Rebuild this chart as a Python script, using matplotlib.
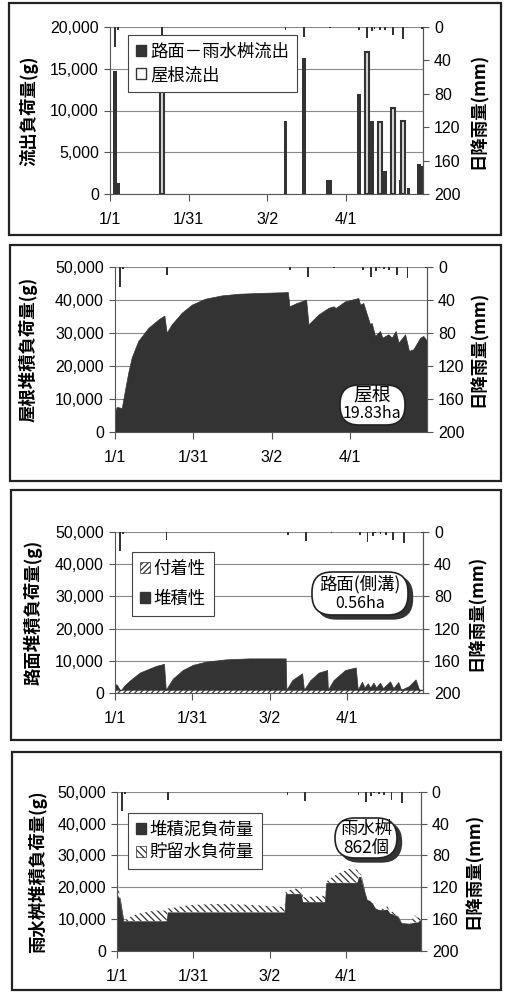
import matplotlib
matplotlib.use("Agg")
import matplotlib.pyplot as plt
from matplotlib.patches import Patch, Rectangle, FancyBboxPatch

plt.rcParams['font.family'] = ['Liberation Sans', 'Noto Sans CJK JP', 'DejaVu Sans']
plt.rcParams['hatch.linewidth'] = 0.9
DARK = '#333333'
plt.rcParams['hatch.color'] = DARK
GRID = '#8a8a8a'
JP = ['Noto Sans CJK JP', 'DejaVu Sans']

W, H = 506, 992

# days counted from 1/1
date_ticks = [0, 30, 60, 90]
date_labels = ['1/1', '1/31', '3/2', '4/1']

# daily rainfall (mm), rainy days only
rain_days = [2, 3, 20, 67, 74, 84, 95, 98, 100, 101, 103, 105, 108, 112, 119]
rain_mm = [24, 3, 10, 4, 12, 1, 4, 13, 5, 2, 3, 4, 10, 14, 2]

# outflow loads (g)
road_out_days = [2, 3, 67, 74, 83, 84, 95, 100, 105, 111, 114, 118, 119]
road_out_g = [14700, 1300, 8800, 16300, 1700, 1700, 12000, 8800, 2800, 1700, 700, 3600, 3300]
roof_out_days = [20, 98, 103, 108, 112]
roof_out_g = [15000, 17000, 8600, 10300, 8800]

# roof accumulated load (g)
roof_days = [0, 0.6, 2.6, 3.8, 5.1, 6.4, 8.9, 12.8, 16.6, 18.9, 19.8, 21.7, 25.5, 29.4,
             34.5, 40.9, 47.3, 53.6, 66.2, 66.8, 69.6, 73.2, 74.1, 77.9, 81.7, 83.7,
             84.5, 88.1, 93.2, 93.9, 95.1, 97.7, 98.3, 99.6, 101.5, 102.4, 104.7, 106.0,
             107.5, 108.6, 111.1, 112.6, 114.3, 116.9, 118.1, 119.5]
roof_load = [5500, 7500, 7200, 12500, 18000, 22500, 27500, 31500, 34000, 35200, 30000,
             32500, 36000, 38500, 40300, 41300, 41800, 42000, 42300, 38000, 39000, 40000,
             32500, 35500, 37500, 38000, 37500, 39500, 40500, 38500, 39000, 32500, 33000,
             29000, 30500, 28500, 29500, 28500, 30500, 27000, 29500, 24500, 25000, 28500,
             29000, 27500]

# road (gutter) accumulated load (g): adhesive layer + deposit
adhesive_days = [0, 119.5]
adhesive_load = [1100, 1100]
deposit_days = [0, 0.8, 1.8, 2.5, 3.5, 5.8, 9.6, 13.5, 16, 19, 19.7, 22.5, 26.3, 30.2,
                35.3, 43, 52, 66.2, 66.5, 68.8, 72.6, 73.3, 75.8, 79, 82.3, 82.6, 84.8,
                89.3, 93.4, 94.2, 95.8, 96.8, 98.1, 99, 100.3, 101.3, 102.8, 104, 106.7,
                108, 109.9, 111, 111.5, 114, 116.6, 118, 119.5]
deposit_load = [1800, 1500, 0, 0, 1200, 2900, 5300, 6600, 7400, 8000, 0, 3500, 6100, 7700,
                8700, 9400, 9700, 9700, 0, 3000, 5100, 0, 3000, 5300, 6100, 0, 3000,
                6100, 6900, 0, 2500, 700, 2000, 700, 2200, 700, 2200, 500, 2600,
                500, 2400, 0, 200, 1100, 3200, 0, 0]

# catch basin accumulated load (g): sludge + stored water
basin_days = [0, 1, 2.4, 5.6, 9.6, 14.8, 19.4, 19.8, 20.7, 27.9, 38.4, 50.2, 60.7, 65.9,
              66.3, 67.9, 72.5, 73.2, 81.7, 82.3, 84.3, 87.6, 91.5, 94.4, 95.2, 96.0,
              97.5, 98.3, 99.4, 100.7, 101.7, 103.3, 104.5, 106.4, 107.5, 108.5, 109.2,
              110.5, 111.8, 115.1, 117.1, 118.2, 119.5]
sludge_load = [17600, 16500, 9300, 9300, 9300, 9300, 9300, 12100, 12100, 12100, 12100,
               12100, 12100, 12100, 17900, 17900, 17900, 15300, 15300, 21400, 21400,
               21400, 21400, 21400, 23300, 23300, 18000, 16000, 15800, 14800, 13300,
               12800, 12800, 13000, 11700, 11500, 11200, 10800, 8700, 8500, 8900, 8900,
               9700]
water_load = [4700, 500, 0, 1600, 2600, 3300, 3300, 1200, 1200, 2200, 2600, 2400, 1900,
              1600, 800, 1200, 2000, 1500, 2000, 300, 1600, 3100, 4400, 4100, 1200, 700,
              0, 0, 300, 500, 1000, 200, 400, 1000, 300, 800, 500, 200, 0, 0, 2300,
              1500, 1000]

fig = plt.figure(figsize=(W / 100, H / 100), dpi=100)


def frame(x0, y0, x1, y1):
    fig.add_artist(Rectangle((x0 / W, 1 - y1 / H), (x1 - x0) / W, (y1 - y0) / H,
                             transform=fig.transFigure, fill=False, ec='#222222', lw=1.6))


def panel(box, ymax, ystep, ylabel, lab_left, lab_right):
    l, t, r, b = box
    ax = fig.add_axes([l / W, 1 - b / H, (r - l) / W, (b - t) / H])
    ax.set_xlim(0, 119.5)
    ax.set_ylim(0, ymax)
    ax.set_yticks(range(0, ymax + 1, ystep))
    ax.set_yticklabels([f'{v:,}' for v in range(0, ymax + 1, ystep)])
    ax.set_xticks(date_ticks)
    ax.set_xticklabels(date_labels)
    ax.yaxis.grid(True, color=GRID, lw=0.8)
    ax.set_axisbelow(True)
    ax.spines['top'].set_visible(False)
    for s in ['left', 'bottom', 'right']:
        ax.spines[s].set_color('#555555')
        ax.spines[s].set_linewidth(0.8)
    ax.tick_params(axis='y', length=4, width=0.8, color='#555555', labelsize=11.5, pad=4)
    ax.tick_params(axis='x', length=5, width=0.8, color='#555555', labelsize=11.5, pad=8)
    ax.set_ylabel(ylabel, family=JP, fontsize=12.5, fontweight='bold')
    ax.yaxis.set_label_coords(lab_left, 0.5)

    ax2 = ax.twinx()
    ax2.bar(rain_days, rain_mm, width=0.7, color=DARK, lw=0)
    ax2.set_ylim(200, 0)
    ax2.set_yticks(range(0, 201, 40))
    for s in ['left', 'bottom', 'top']:
        ax2.spines[s].set_visible(False)
    ax2.spines['right'].set_color('#555555')
    ax2.spines['right'].set_linewidth(0.8)
    ax2.tick_params(axis='y', length=4, width=0.8, color='#555555', labelsize=11.5, pad=4)
    ax2.set_ylabel('日降雨量(mm)', family=JP, fontsize=12.5, fontweight='bold')
    ax2.yaxis.set_label_coords(lab_right, 0.5)
    return ax, ax2


def note(x0, y0, x1, y1, rounding, lines, shadow):
    pos = (x0 / 100, (H - y1) / 100)
    size = ((x1 - x0) / 100, (y1 - y0) / 100)
    style = f'round,pad=0,rounding_size={rounding}'
    if shadow:
        fig.add_artist(FancyBboxPatch((pos[0] + 0.045, pos[1] - 0.04), *size, boxstyle=style,
                                      transform=fig.dpi_scale_trans, fc=DARK, ec=DARK, lw=1))
    fig.add_artist(FancyBboxPatch(pos, *size, boxstyle=style, transform=fig.dpi_scale_trans,
                                  fc='white', ec='#222222', lw=1.2))
    for text, x, y, fs in lines:
        fig.text(x / W, 1 - y / H, text, ha='center', va='center', family=JP, fontsize=fs)


def legend(ax, handles, labels, anchor, spacing):
    leg = ax.legend(handles, labels, loc='upper left', bbox_to_anchor=anchor,
                    borderaxespad=0, frameon=True, fancybox=False, framealpha=1,
                    edgecolor='#444444', prop={'family': JP, 'size': 12.5},
                    handlelength=0.6, handleheight=0.6, handletextpad=0.2,
                    borderpad=0.45, labelspacing=spacing)
    leg.get_frame().set_linewidth(0.8)


for fr in [(9, 3, 501, 235), (10, 245, 501, 481), (11, 490, 501, 740), (12, 752, 501, 990)]:
    frame(*fr)

# outflow loads
ax, ax2 = panel((110, 27, 423, 194), 20000, 5000, '流出負荷量(g)', -0.227, 1.150)
ax.bar(road_out_days, road_out_g, width=1.4, color=DARK, lw=0)
ax.bar(roof_out_days, roof_out_g, width=1.5, color='#d8d8d8', edgecolor=DARK, lw=1.5)
legend(ax2, [Patch(fc=DARK, ec=DARK), Patch(fc='white', ec=DARK, lw=1)],
       ['路面－雨水桝流出', '屋根流出'], (0.058, 0.952), 0.3)

# roof accumulation
ax, ax2 = panel((115, 266.7, 427, 431.7), 50000, 10000, '屋根堆積負荷量(g)', -0.247, 1.138)
ax.fill_between(roof_days, 0, roof_load, color=DARK, lw=0.5)
note(340, 385, 405, 425, 0.19, [('屋根', 372, 395, 13.5), ('19.83ha', 372, 414, 11.5)], False)

# road accumulation
ax, ax2 = panel((115, 531.7, 423, 693.3), 50000, 10000, '路面堆積負荷量(g)', -0.234, 1.146)
ax.fill_between(adhesive_days, 0, adhesive_load, fc='white', ec=DARK, hatch='//////', lw=0)
road_top = [adhesive_load[0] + v for v in deposit_load]
ax.fill_between(deposit_days, adhesive_load[0], road_top, color=DARK, lw=0.5)
legend(ax2, [Patch(fc='white', ec=DARK, hatch='//////', lw=0.5), Patch(fc=DARK, ec=DARK)],
       ['付着性', '堆積性'], (0.055, 0.874), 0.7)
note(312, 572, 408, 615, 0.2, [('路面(側溝)', 360, 584, 12.5), ('0.56ha', 360, 604, 11.5)], True)

# catch basin accumulation
ax, ax2 = panel((117.3, 791.7, 420.7, 950.7), 50000, 10000, '雨水桝堆積負荷量(g)', -0.232, 1.146)
ax.fill_between(basin_days, 0, sludge_load, color=DARK, lw=0.5)
basin_top = [s + w for s, w in zip(sludge_load, water_load)]
ax.fill_between(basin_days, sludge_load, basin_top, fc='white', ec=DARK, hatch='\\\\\\\\\\', lw=0)
legend(ax2, [Patch(fc=DARK, ec=DARK), Patch(fc='white', ec=DARK, hatch='\\\\\\\\\\', lw=0.5)],
       ['堆積泥負荷量', '貯留水負荷量'], (0.035, 0.866), 0.25)
note(335, 818, 397, 858, 0.2, [('雨水桝', 366, 829, 12.5), ('862個', 366, 848, 12.5)], True)

fig.savefig('out.png', dpi=100)
